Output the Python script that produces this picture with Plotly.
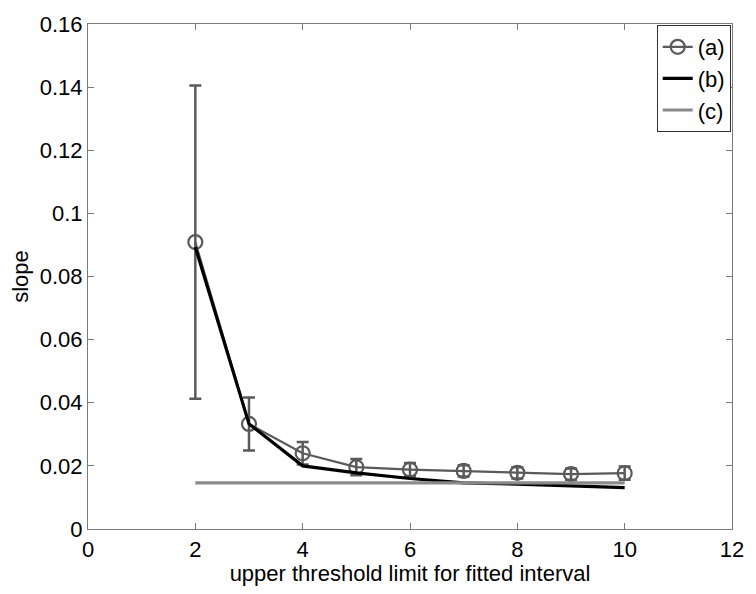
import plotly.graph_objects as go

# Upper threshold limits used for the fitted interval
thresholds = [2, 3, 4, 5, 6, 7, 8, 9, 10]

# (a) fitted slope with uncertainty
slope_a = [0.0909, 0.0333, 0.0240, 0.0196, 0.0188, 0.0184, 0.0178, 0.0174, 0.0177]
err_a = [0.0496, 0.0084, 0.0036, 0.0026, 0.0021, 0.0018, 0.0018, 0.0018, 0.0021]

# (b) alternative slope estimate
slope_b = [0.0893, 0.0333, 0.0200, 0.0178, 0.0160, 0.0146, 0.0142, 0.0136, 0.0131]

# (c) reference slope
slope_c = [0.0146] * len(thresholds)

x_ticks = [0, 2, 4, 6, 8, 10, 12]
y_ticks = [0, 0.02, 0.04, 0.06, 0.08, 0.1, 0.12, 0.14, 0.16]
y_tick_text = ["0", "0.02", "0.04", "0.06", "0.08", "0.1", "0.12", "0.14", "0.16"]

font_family = "Liberation Sans, Arial, Helvetica, sans-serif"
font_size = 22
axis_color = "#7a7a7a"

fig = go.Figure()

fig.add_trace(go.Scatter(
    x=thresholds, y=slope_a, name="(a)", mode="lines+markers",
    line=dict(color="#5a5a5a", width=2.2),
    marker=dict(symbol="circle-open", size=14, color="#5a5a5a", line=dict(width=2.2)),
    error_y=dict(type="data", array=err_a, visible=True, color="#5a5a5a", thickness=2.5, width=6),
    legendgroup="a",
))

fig.add_trace(go.Scatter(
    x=thresholds, y=slope_b, name="(b)", mode="lines",
    line=dict(color="#000000", width=3.2),
    legendgroup="b",
))

fig.add_trace(go.Scatter(
    x=thresholds, y=slope_c, name="(c)", mode="lines",
    line=dict(color="#8a8a8a", width=3.2),
    legendgroup="c",
))

axis_common = dict(
    showline=True, linecolor=axis_color, linewidth=1.2, mirror="ticks",
    ticks="inside", ticklen=6, tickcolor=axis_color, tickwidth=1,
    showgrid=False, zeroline=False,
    tickfont=dict(family=font_family, size=font_size, color="#000000"),
)

fig.update_layout(
    width=756, height=594,
    margin=dict(l=88, r=17, t=15, b=65),
    paper_bgcolor="white", plot_bgcolor="white",
    font=dict(family=font_family, size=font_size, color="#000000"),
    xaxis=dict(
        range=[0, 12], tickvals=x_ticks, ticktext=[str(v) for v in x_ticks],
        title=dict(text="upper threshold limit for fitted interval", standoff=3,
                   font=dict(family=font_family, size=font_size)),
        **axis_common,
    ),
    yaxis=dict(
        range=[0, 0.16], tickvals=y_ticks, ticktext=y_tick_text,
        title=dict(text="slope", standoff=4, font=dict(family=font_family, size=font_size)),
        **axis_common,
    ),
    legend=dict(
        x=0.998, y=0.998, xanchor="right", yanchor="top",
        bgcolor="white", bordercolor="#333333", borderwidth=1,
        font=dict(family=font_family, size=font_size, color="#000000"),
        traceorder="grouped", tracegroupgap=0,
        entrywidth=52,
    ),
    showlegend=True,
)

fig.write_html("out.html")
